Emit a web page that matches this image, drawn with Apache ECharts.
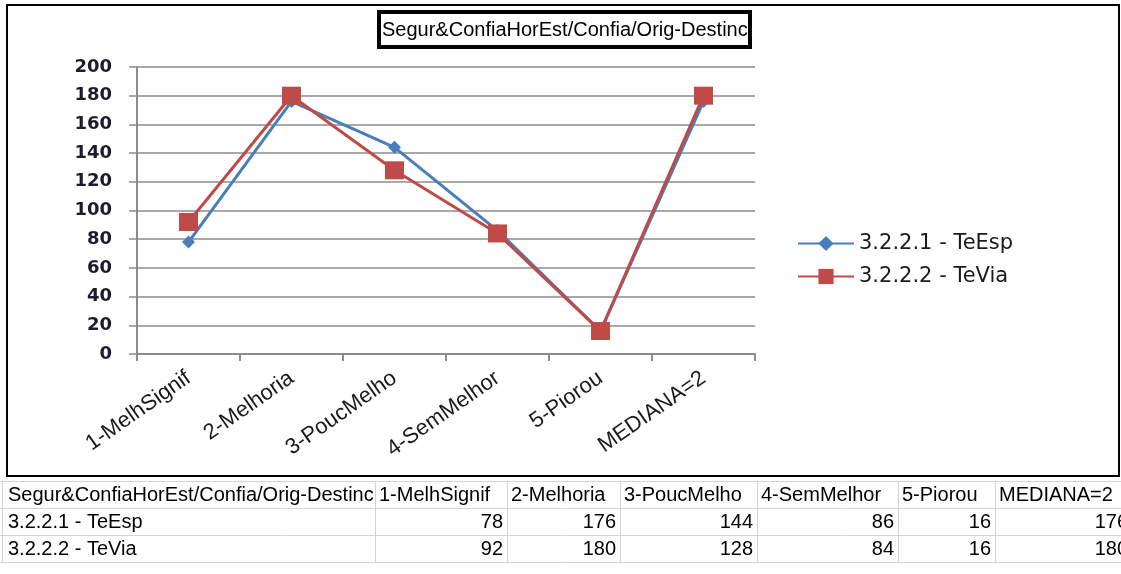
<!DOCTYPE html>
<html>
<head>
<meta charset="utf-8">
<script src="https://cdn.jsdelivr.net/npm/echarts@6/dist/echarts.min.js"></script>
<style>
  html, body { margin: 0; padding: 0; background: #ffffff; }
  #chart { width: 1121px; height: 574px; }
</style>
</head>
<body>
<div id="chart"></div>
<script>
// Survey result: confidence in scheduled / travel time, by improvement category
const titleText = 'Segur&ConfiaHorEst/Confia/Orig-Destinc';
const categories = ['1-MelhSignif', '2-Melhoria', '3-PoucMelho', '4-SemMelhor', '5-Piorou', 'MEDIANA=2'];
const seriesNames = ['3.2.2.1 - TeEsp', '3.2.2.2 - TeVia'];
const teEsp = [78, 176, 144, 86, 16, 176];
const teVia = [92, 180, 128, 84, 16, 180];

// Layout of the data table under the chart
const tableCols = [2, 375, 507, 620, 757, 898, 995, 1132];
const tableRows = [481, 508, 535, 562];

const BLUE = '#4a7ebb';
const RED = '#be4b48';
const GRID = '#8c8c8c';
const TABLE_FONT = '"Liberation Sans", Arial, sans-serif';
const AXIS_FONT = '"DejaVu Sans", Verdana, sans-serif';

function buildTable() {
  const els = [];
  const gridColor = '#d4d4d4';
  tableRows.forEach(function (y) {
    els.push({ type: 'line', silent: true,
      shape: { x1: 0, y1: y + 0.5, x2: 1121, y2: y + 0.5 },
      style: { stroke: gridColor, lineWidth: 1 } });
  });
  tableCols.forEach(function (x) {
    els.push({ type: 'line', silent: true,
      shape: { x1: x + 0.5, y1: tableRows[0], x2: x + 0.5, y2: tableRows[tableRows.length - 1] },
      style: { stroke: gridColor, lineWidth: 1 } });
  });
  const rows = [
    [titleText].concat(categories),
    [seriesNames[0]].concat(teEsp),
    [seriesNames[1]].concat(teVia)
  ];
  rows.forEach(function (row, r) {
    const cy = (tableRows[r] + tableRows[r + 1]) / 2 + 1;
    row.forEach(function (cell, c) {
      const numeric = typeof cell === 'number';
      els.push({ type: 'text', silent: true,
        x: numeric ? tableCols[c + 1] - 4 : tableCols[c] + 4 + (c === 0 ? 2 : 0),
        y: cy,
        style: { text: String(cell), fill: '#000000', fontSize: 20, fontFamily: TABLE_FONT,
          align: numeric ? 'right' : 'left', verticalAlign: 'middle' } });
    });
  });
  return els;
}

const chart = echarts.init(document.getElementById('chart'), null, { renderer: 'canvas' });

chart.setOption({
  backgroundColor: '#ffffff',
  animation: false,
  title: {
    text: titleText,
    left: 379,
    top: 12,
    padding: [8, 3, 7, 3],
    borderWidth: 4,
    borderColor: '#000000',
    backgroundColor: '#ffffff',
    textStyle: { fontFamily: TABLE_FONT, fontSize: 20, fontWeight: 'normal', color: '#000000' }
  },
  legend: {
    orient: 'vertical',
    left: 792,
    top: 228,
    itemWidth: 56,
    itemHeight: 19,
    itemGap: 12,
    textStyle: { fontFamily: AXIS_FONT, fontSize: 21, color: '#1a1a1a' },
    data: seriesNames
  },
  grid: { left: 137, right: 366, top: 67, bottom: 220, containLabel: false },
  xAxis: {
    type: 'category',
    data: categories,
    boundaryGap: true,
    axisLine: { lineStyle: { color: GRID, width: 2 } },
    axisTick: { show: true, length: 7, interval: 0, lineStyle: { color: GRID, width: 2 } },
    axisLabel: {
      interval: 0, rotate: 35, margin: 22,
      fontFamily: TABLE_FONT, fontSize: 22, color: '#1a1a1a'
    },
    splitLine: { show: false }
  },
  yAxis: {
    type: 'value',
    min: 0,
    max: 200,
    interval: 20,
    axisLine: { show: true, lineStyle: { color: GRID, width: 2 } },
    axisTick: { show: true, length: 8, lineStyle: { color: GRID, width: 1.5 } },
    axisLabel: {
      margin: 25,
      fontFamily: AXIS_FONT, fontWeight: 'bold', fontSize: 18, color: '#1c1c2c'
    },
    splitLine: { show: true, lineStyle: { color: GRID, width: 1.5 } }
  },
  series: [
    {
      name: seriesNames[0], type: 'line', data: teEsp,
      symbol: 'diamond', symbolSize: [13, 13],
      lineStyle: { color: BLUE, width: 3 },
      itemStyle: { color: BLUE },
      z: 2
    },
    {
      name: seriesNames[1], type: 'line', data: teVia,
      symbol: 'rect', symbolSize: [19, 18],
      lineStyle: { color: RED, width: 3 },
      itemStyle: { color: RED },
      z: 3
    }
  ],
  graphic: [
    { type: 'rect', silent: true, z: 100,
      shape: { x: 7, y: 5, width: 1112, height: 471 },
      style: { fill: 'none', stroke: '#000000', lineWidth: 2 } }
  ].concat(buildTable())
});
</script>
</body>
</html>
